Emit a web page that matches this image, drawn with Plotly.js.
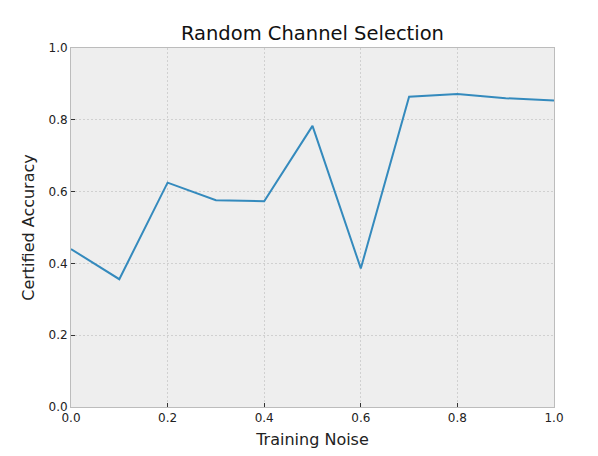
<!DOCTYPE html>
<html>
<head>
<meta charset="utf-8">
<script src="https://cdn.plot.ly/plotly-3.0.1.min.js"></script>
<style>
  html, body { margin: 0; padding: 0; background: #ffffff; }
  #plot { width: 598px; height: 456px; }
</style>
</head>
<body>
<div id="plot"></div>
<script>
// Certified accuracy vs training noise
const trainingNoise = [0.0, 0.1, 0.2, 0.3, 0.4, 0.5, 0.6, 0.7, 0.8, 0.9, 1.0];
const certifiedAccuracy = [0.440, 0.356, 0.625, 0.576, 0.573, 0.783, 0.386, 0.864, 0.872, 0.860, 0.854];

const tickVals = [0.0, 0.2, 0.4, 0.6, 0.8, 1.0];
const tickText = ['0.0', '0.2', '0.4', '0.6', '0.8', '1.0'];

const font = 'DejaVu Sans, sans-serif';

const axisStyle = {
    range: [0, 1],
    tickvals: tickVals,
    ticktext: tickText,
    ticks: 'inside',
    ticklen: 4,
    tickwidth: 1,
    tickcolor: '#333333',
    showline: true,
    linecolor: '#bcbcbc',
    linewidth: 1,
    mirror: true,
    showgrid: true,
    gridcolor: '#bdbdbd',
    gridwidth: 0.6,
    griddash: '2px,2px',
    zeroline: false,
    tickfont: {family: font, size: 12, color: '#222222'}
};

const plotData = [{
    x: trainingNoise,
    y: certifiedAccuracy,
    mode: 'lines',
    line: {color: '#348ABD', width: 2},
    hoverinfo: 'x+y'
}];

const layout = {
    width: 598,
    height: 456,
    margin: {l: 71, r: 44, t: 48, b: 49},
    paper_bgcolor: '#ffffff',
    plot_bgcolor: '#eeeeee',
    showlegend: false,
    title: {
        text: 'Random Channel Selection',
        font: {family: font, size: 19.5, color: '#111111'},
        x: 0.5225, xanchor: 'center',
        y: 0.913, yanchor: 'bottom'
    },
    xaxis: Object.assign({}, axisStyle, {
        title: {text: 'Training Noise', font: {family: font, size: 16, color: '#222222'}, standoff: 9}
    }),
    yaxis: Object.assign({}, axisStyle, {
        title: {text: 'Certified Accuracy', font: {family: font, size: 16, color: '#222222'}, standoff: 9}
    })
};

Plotly.newPlot('plot', plotData, layout, {displayModeBar: false, staticPlot: true});
</script>
</body>
</html>
